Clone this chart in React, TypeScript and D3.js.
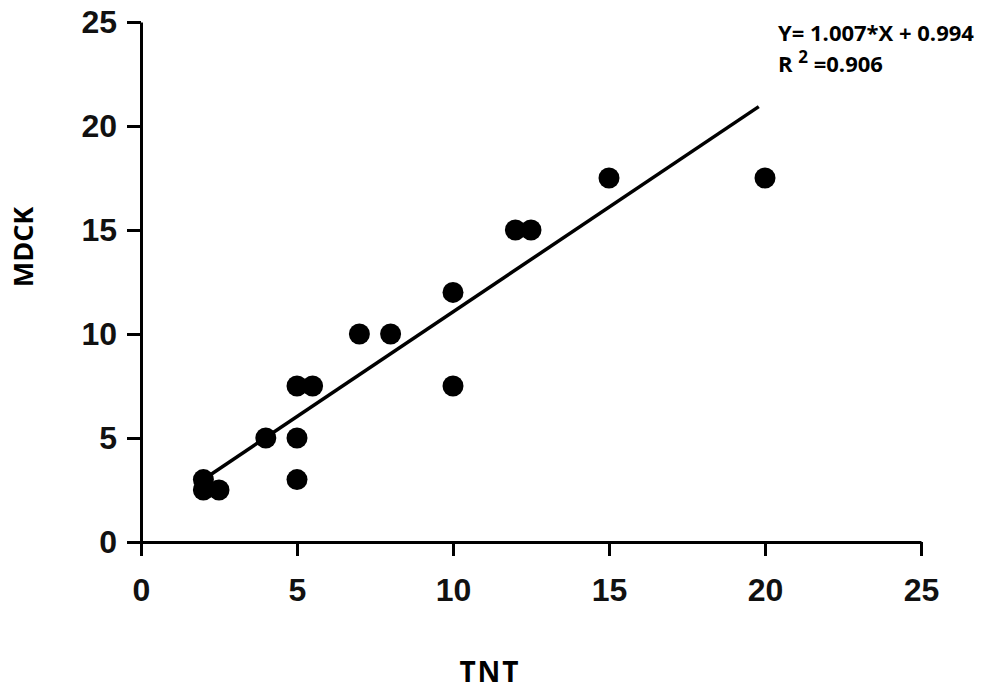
import React, { useEffect, useRef } from 'react';
import * as d3 from 'd3';

// TNT vs MDCK titres
const tntValues = [2, 2, 2.5, 4, 5, 5.5, 5, 5, 7, 8, 10, 10, 12, 12.5, 15, 20];
const mdckValues = [3, 2.5, 2.5, 5, 7.5, 7.5, 5, 3, 10, 10, 12, 7.5, 15, 15, 17.5, 17.5];
const xTicks = [0, 5, 10, 15, 20, 25];
const yTicks = [0, 5, 10, 15, 20, 25];
const fitSlope = 1.007;
const fitIntercept = 0.994;
const fitRange = [2, 19.8];

const App = () => {
  const ref = useRef<SVGSVGElement>(null);

  useEffect(() => {
    const svg = d3.select(ref.current);
    svg.selectAll('*').remove();

    const x = d3.scaleLinear().domain([0, 25]).range([141, 921]);
    const y = d3.scaleLinear().domain([0, 25]).range([542, 22]);

    const tickFont = '"Liberation Sans", Arial, sans-serif';
    const titleFont = '"Open Sans", "Noto Sans", sans-serif';

    // x axis
    const gx = svg
      .append('g')
      .attr('transform', `translate(0, ${y(0)})`)
      .call(d3.axisBottom(x).tickValues(xTicks).tickSize(14).tickSizeOuter(0).tickPadding(22));
    // y axis
    const gy = svg
      .append('g')
      .attr('transform', `translate(${x(0)}, 0)`)
      .call(d3.axisLeft(y).tickValues(yTicks).tickSize(14).tickSizeOuter(0).tickPadding(10));

    [gx, gy].forEach((g) => {
      g.select('.domain').attr('stroke', '#000').attr('stroke-width', 3);
      g.selectAll('.tick line').attr('stroke', '#000').attr('stroke-width', 3);
      g.selectAll('.tick text')
        .attr('fill', '#111')
        .style('font-family', tickFont)
        .style('font-size', '32px')
        .style('font-weight', 'bold');
    });

    // regression line
    svg
      .append('line')
      .attr('x1', x(fitRange[0]))
      .attr('y1', y(fitSlope * fitRange[0] + fitIntercept))
      .attr('x2', x(fitRange[1]))
      .attr('y2', y(fitSlope * fitRange[1] + fitIntercept))
      .attr('stroke', '#000')
      .attr('stroke-width', 3.5);

    // points
    svg
      .append('g')
      .selectAll('circle')
      .data(tntValues.map((t, i) => [t, mdckValues[i]]))
      .enter()
      .append('circle')
      .attr('cx', (d) => x(d[0]))
      .attr('cy', (d) => y(d[1]))
      .attr('r', 10.5)
      .attr('fill', '#000');

    // axis titles
    svg
      .append('text')
      .attr('x', 490)
      .attr('y', 682)
      .attr('text-anchor', 'middle')
      .style('font-family', titleFont)
      .style('font-size', '28px')
      .style('font-weight', 'bold')
      .style('letter-spacing', '2px')
      .text('TNT');

    svg
      .append('text')
      .attr('transform', 'translate(33, 247) rotate(-90)')
      .attr('text-anchor', 'middle')
      .style('font-family', titleFont)
      .style('font-size', '27px')
      .style('font-weight', 'bold')
      .text('MDCK');

    // equation
    const eq = svg
      .append('g')
      .style('font-family', titleFont)
      .style('font-size', '22px')
      .style('font-weight', 'bold');
    eq.append('text').attr('x', 778).attr('y', 41).text(`Y= ${fitSlope.toFixed(3)}*X + ${fitIntercept.toFixed(3)}`);
    const r2 = eq.append('text').attr('x', 778).attr('y', 72);
    r2.append('tspan').text('R ');
    r2.append('tspan').attr('dy', -9).style('font-size', '17px').text('2');
    r2.append('tspan').attr('dy', 9).text(' =0.906');
  }, []);

  return (
    <svg
      ref={ref}
      width={1003}
      height={698}
      style={{ position: 'absolute', top: 0, left: 0, background: '#fff' }}
    />
  );
};

export default App;
